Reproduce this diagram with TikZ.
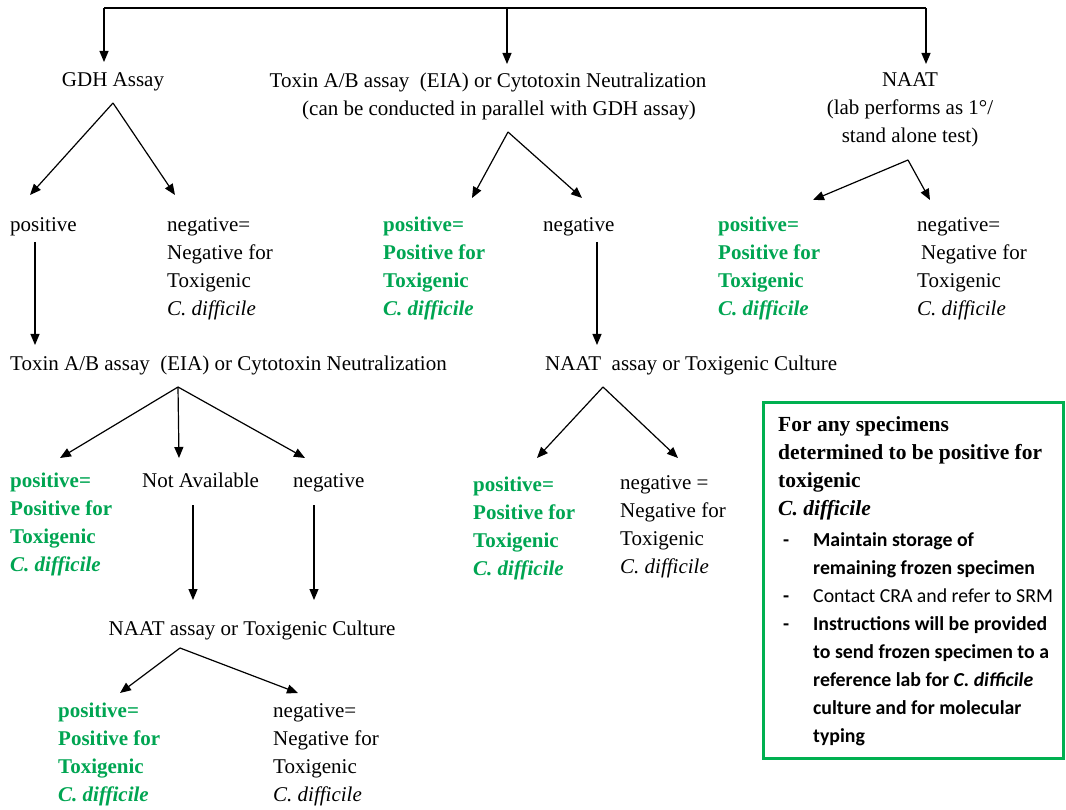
\documentclass[tikz,border=0pt]{standalone}
\usepackage{fontspec}
\setmainfont{Liberation Serif}
\newfontfamily\calfont{Carlito}
\usetikzlibrary{arrows.meta}
\definecolor{posgreen}{RGB}{0,165,82}
\definecolor{boxgreen}{RGB}{0,176,80}
\begin{document}
\begin{tikzpicture}[x=1pt,y=-1pt,
  txt/.style={inner sep=0pt, align=left, anchor=north west, font=\fontsize{21}{28}\selectfont},
  ctxt/.style={inner sep=0pt, align=center, font=\fontsize{21}{28}\selectfont},
  postxt/.style={txt, text=posgreen, font=\fontsize{21}{28}\selectfont\bfseries},
  arr/.style={draw, line width=1.2pt, -{Triangle[length=11pt,width=9pt]}},
  ln/.style={draw, line width=1.2pt},
]
\useasboundingbox (0,0) rectangle (1066,810);
% headers
\node[ctxt] (gdh) at (113,82) {GDH Assay};
\node[ctxt] (tox1) at (488,82) {Toxin A/B assay \ (EIA) or Cytotoxin Neutralization};
\node[ctxt] (tox1note) at (499,110) {(can be conducted in parallel with GDH assay)};
\node[ctxt, anchor=north] (naat1) at (910,72) {NAAT\\(lab performs as 1°/\\stand alone test)};
% row 1
\node[txt] (pos1) at (10,217) {positive};
\node[txt] (neg1) at (167,217) {negative=\\Negative for\\Toxigenic\\\textit{C. difficile}};
\node[postxt] (pos2) at (383,217) {positive=\\Positive for\\Toxigenic\\\textit{C. difficile}};
\node[txt] (neg2) at (543,217) {negative};
\node[postxt] (pos3) at (718,217) {positive=\\Positive for\\Toxigenic\\\textit{C. difficile}};
\node[txt] (neg3) at (917,217) {negative=\\\hspace*{4pt}Negative for\\Toxigenic\\\textit{C. difficile}};
% second level
\node[txt, anchor=west] (tox2) at (10,365) {Toxin A/B assay \ (EIA) or Cytotoxin Neutralization};
\node[txt, anchor=west] (naat2) at (545,365) {NAAT \ assay or Toxigenic Culture};
% row 2
\node[postxt] (pos4) at (10,473) {positive=\\Positive for\\Toxigenic\\\textit{C. difficile}};
\node[txt] (na) at (142,473) {Not Available};
\node[txt] (neg4) at (293,473) {negative};
\node[postxt] (pos5) at (473,477) {positive=\\Positive for\\Toxigenic\\\textit{C. difficile}};
\node[txt] (neg5) at (620,475) {negative =\\Negative for\\Toxigenic\\\textit{C. difficile}};
% third level
\node[ctxt] (naat3) at (252,630) {NAAT assay or Toxigenic Culture};
\node[postxt] (pos6) at (58,703) {positive=\\Positive for\\Toxigenic\\\textit{C. difficile}};
\node[txt] (neg6) at (273,703) {negative=\\Negative for\\Toxigenic\\\textit{C. difficile}};
% box
\node[draw=boxgreen, line width=3pt, anchor=north west, inner sep=0pt,
      minimum width=300pt, minimum height=356pt] (box) at (762,401) {};
\node[inner sep=0pt, anchor=north west, align=left,
      font=\fontsize{21.5}{28}\selectfont\bfseries] (boxhead) at (778,416)
  {For any specimens\\determined to be positive for\\toxigenic\\\textit{C. difficile}};
\node[inner sep=0pt, anchor=north west, align=left,
      font=\calfont\fontsize{19.8}{28}\selectfont\bfseries] (boxlist) at (783,532)
  {\makebox[30pt][l]{-}Maintain storage of\\
   \hspace*{30pt}remaining frozen specimen\\
   \makebox[30pt][l]{-}{\mdseries Contact CRA and refer to SRM}\\
   \makebox[30pt][l]{-}Instructions will be provided\\
   \hspace*{30pt}to send frozen specimen to a\\
   \hspace*{30pt}reference lab for \textit{C. difficile}\\
   \hspace*{30pt}culture and for molecular\\
   \hspace*{30pt}typing};
% coordinates
\coordinate (tL) at (104,8);
\coordinate (tM) at (507,8);
\coordinate (tR) at (926,8);
\coordinate (tLe) at (104,62);
\coordinate (tMe) at (507,64);
\coordinate (tRe) at (926,64);
\coordinate (gA) at (113,103);
\coordinate (gAl) at (30,195);
\coordinate (gAr) at (175,195);
\coordinate (p1s) at (35,242);
\coordinate (p1e) at (35,345);
\coordinate (t2A) at (178,387);
\coordinate (t2l) at (60,458);
\coordinate (t2m) at (179,458);
\coordinate (t2r) at (305,458);
\coordinate (nas) at (193,505);
\coordinate (nae) at (193,600);
\coordinate (n4s) at (314,505);
\coordinate (n4e) at (314,600);
\coordinate (n3A) at (180,648);
\coordinate (n3l) at (120,693);
\coordinate (n3r) at (298,693);
\coordinate (mA) at (508,132);
\coordinate (mAl) at (472,198);
\coordinate (mAr) at (582,198);
\coordinate (n2s) at (597,242);
\coordinate (n2e) at (597,345);
\coordinate (n2A) at (603,387);
\coordinate (n2l) at (537,458);
\coordinate (n2r) at (678,458);
\coordinate (rA) at (908,160);
\coordinate (rAl) at (813,200);
\coordinate (rAr) at (930,200);
% connectors
\draw[ln] (tL) -- (tR);
\draw[arr] (tL) -- (tLe);
\draw[arr] (tM) -- (tMe);
\draw[arr] (tR) -- (tRe);
\draw[arr] (gA) -- (gAl);
\draw[arr] (gA) -- (gAr);
\draw[arr] (p1s) -- (p1e);
\draw[arr] (t2A) -- (t2l);
\draw[arr] (t2A) -- (t2m);
\draw[arr] (t2A) -- (t2r);
\draw[arr] (nas) -- (nae);
\draw[arr] (n4s) -- (n4e);
\draw[arr] (n3A) -- (n3l);
\draw[arr] (n3A) -- (n3r);
\draw[arr] (mA) -- (mAl);
\draw[arr] (mA) -- (mAr);
\draw[arr] (n2s) -- (n2e);
\draw[arr] (n2A) -- (n2l);
\draw[arr] (n2A) -- (n2r);
\draw[arr] (rA) -- (rAl);
\draw[arr] (rA) -- (rAr);
\end{tikzpicture}
\end{document}
